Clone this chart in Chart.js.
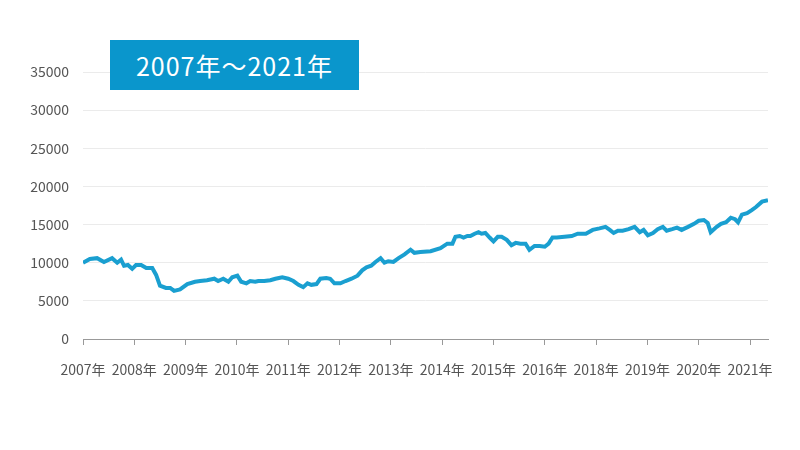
<!DOCTYPE html>
<html>
<head>
<meta charset="utf-8">
<script src="https://cdn.jsdelivr.net/npm/chart.js@4"></script>
<style>
  body { margin: 0; background: #fff; }
  #wrap { position: relative; width: 800px; height: 450px; }
  #title {
    position: absolute; left: 110px; top: 40px; width: 249px; height: 50px;
    background: #0a96cc; color: #fff; font: 25px "Noto Sans CJK JP", sans-serif;
    letter-spacing: 1px;
    display: flex; align-items: center; justify-content: center; z-index: 2;
  }
</style>
</head>
<body>
<div id="wrap">
  <div id="title">2007年～2021年</div>
  <canvas id="myChart" width="800" height="450"></canvas>
</div>
<script>
// Year tick labels (as printed on the original)
var yearLabels = ['2007年', '2008年', '2009年', '2010年', '2011年', '2012年', '2013年',
  '2014年', '2015年', '2016年', '2018年', '2019年', '2020年', '2021年'];

// Months since Jan 2007
var months = [0, 1.6, 3.3, 4.9, 6.8, 8.0, 8.9, 9.6, 10.5, 11.5, 12.4, 13.6, 14.8, 16.2, 17.1,
  18.0, 19.4, 20.4, 21.3, 22.7, 24.4, 26.2, 27.4, 29.0, 30.7, 31.6, 32.8, 34.0, 34.9, 36.1,
  37.0, 38.2, 39.1, 40.3, 41.0, 42.4, 43.8, 45.0, 46.6, 48.0, 49.2, 50.4, 51.5, 52.5, 53.4,
  54.6, 55.5, 56.9, 57.8, 58.8, 60.2, 61.4, 62.8, 64.2, 65.3, 66.3, 67.4, 68.4, 69.6, 70.5,
  71.4, 72.6, 73.8, 75.2, 76.6, 77.5, 78.9, 81.3, 83.6, 85.2, 86.4, 87.1, 88.1, 89.0, 89.9,
  90.6, 91.6, 92.5, 93.2, 94.1, 95.1, 96.0, 97.0, 97.9, 99.1, 100.2, 101.2, 102.3, 103.5,
  104.4, 105.6, 106.8, 108.0, 108.9, 109.8, 110.8, 112.6, 114.3, 115.7, 117.6, 119.2, 120.8,
  122.2, 123.2, 124.1, 125.1, 126.2, 127.6, 129.0, 130.2, 131.1, 132.1, 133.3, 134.4, 135.6,
  136.5, 137.8, 138.9, 140.0, 141.5, 142.9, 144.0, 145.2, 146.1, 146.8, 148.2, 149.2, 150.4,
  151.5, 152.5, 153.2, 154.1, 155.3, 156.4, 157.4, 158.8, 160.2];

// Series values
var values = [10000, 10500, 10600, 10100, 10600, 10000, 10400, 9600, 9700, 9200, 9700, 9700,
  9300, 9300, 8400, 7000, 6700, 6700, 6300, 6500, 7200, 7500, 7600, 7700, 7900, 7600, 7900,
  7500, 8100, 8300, 7500, 7300, 7600, 7500, 7600, 7600, 7700, 7900, 8100, 7900, 7600, 7100,
  6800, 7300, 7100, 7200, 7900, 8000, 7900, 7300, 7300, 7600, 7900, 8300, 9000, 9400, 9600,
  10100, 10600, 10000, 10200, 10100, 10600, 11100, 11700, 11300, 11400, 11500, 11900, 12500,
  12500, 13400, 13500, 13300, 13500, 13500, 13800, 14000, 13800, 13900, 13300, 12800, 13400,
  13400, 13000, 12300, 12600, 12500, 12500, 11700, 12200, 12200, 12100, 12500, 13300, 13300,
  13400, 13500, 13800, 13800, 14300, 14500, 14700, 14300, 13900, 14200, 14200, 14400, 14700,
  14000, 14300, 13600, 13900, 14400, 14700, 14200, 14400, 14600, 14300, 14700, 15100, 15500,
  15600, 15200, 14000, 14700, 15100, 15300, 15900, 15700, 15300, 16300, 16500, 16900, 17300,
  18000, 18200];

var points = months.map(function (m, i) { return { x: m, y: values[i] }; });

var ctx = document.getElementById('myChart').getContext('2d');
var tickFont = { family: '"Noto Sans CJK JP", sans-serif', size: 14 };

new Chart(ctx, {
  type: 'line',
  data: {
    datasets: [{
      data: points,
      borderColor: '#1a9fd0',
      borderWidth: 4,
      pointRadius: 0,
      tension: 0
    }]
  },
  options: {
    responsive: false,
    animation: false,
    layout: { padding: { top: 72, right: 32, bottom: 65, left: 0 } },
    plugins: { legend: { display: false }, tooltip: { enabled: false } },
    scales: {
      x: {
        type: 'linear',
        min: 0,
        max: 160.2,
        afterFit: function (s) { s.height = 46; },
        afterBuildTicks: function (s) {
          s.ticks = yearLabels.map(function (l, i) { return { value: i * 12 }; });
        },
        grid: { drawOnChartArea: false, tickLength: 6, color: '#999' },
        border: { color: '#999' },
        ticks: {
          color: '#555',
          font: tickFont,
          padding: 16,
          maxRotation: 0,
          autoSkip: false,
          callback: function (v) { return yearLabels[Math.round(v / 12)]; }
        }
      },
      y: {
        min: 0,
        max: 35000,
        afterFit: function (s) { s.width = 83; },
        grid: { color: '#ebebeb', drawTicks: false },
        border: { display: false },
        ticks: {
          stepSize: 5000, color: '#555', font: tickFont, padding: 14,
          callback: function (v) { return String(v); }
        }
      }
    }
  }
});
</script>
</body>
</html>
